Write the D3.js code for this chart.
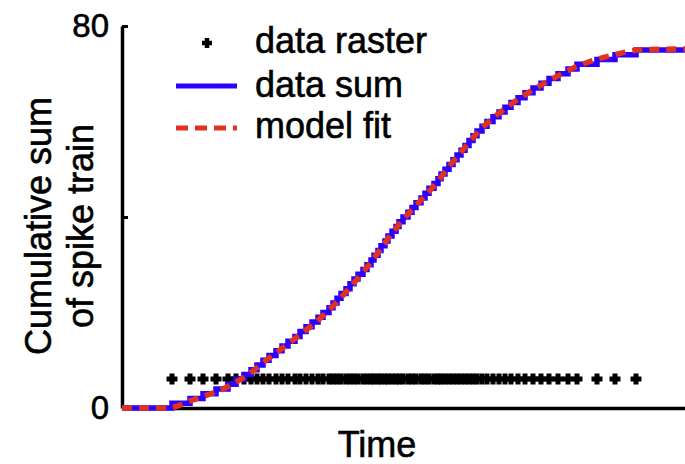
<!DOCTYPE html>
<html>
<head>
<meta charset="utf-8">
<script src="https://cdn.jsdelivr.net/npm/d3@7"></script>
<style>
  body { margin: 0; background: #fff; }
  text { font-family: "Liberation Sans", Arial, sans-serif; fill: #000; stroke: #000; stroke-width: 0.6px; }
</style>
</head>
<body>
<svg id="chart" width="685" height="464"></svg>
<script>
// spike times (same units as the time axis, no tick labels shown)
const spikeTimes = [
  50, 68, 81, 94, 106, 114, 122, 129, 135, 141,
  147, 154, 160, 166, 173, 178, 184, 190, 196, 201,
  207, 211, 215, 219, 224, 228, 232, 236, 241, 245,
  249, 252, 256, 259, 263, 266, 270, 274, 277, 281,
  286, 290, 294, 299, 303, 307, 312, 316, 319, 323,
  327, 331, 335, 339, 343, 347, 351, 355, 360, 365,
  371, 377, 383, 389, 396, 403, 411, 419, 427, 436,
  446, 455, 475, 493, 514
];
const rasterLevel = 6;

// model fit
const fitTimes  = [0, 45, 71, 105, 128, 138, 171, 205, 245, 278, 311, 335, 358, 391, 425, 458, 491, 518, 563];
const fitValues = [0, 0, 1.7, 4.4, 7.3, 9.0, 14.2, 20.1, 29.5, 38.7, 46.3, 52.6, 58.2, 63.9, 68.3, 71.8, 73.9, 75.0, 75.2];

const yTicks = [0, 40, 80];
const yTickLabels = ["0", "", "80"];
const legendLabels = ["data raster", "data sum", "model fit"];

const blue = "#2b00ff";
const red = "#e0321f";

const svg = d3.select("#chart");
const x = d3.scaleLinear().domain([0, 563]).range([122, 685]);
const y = d3.scaleLinear().domain([0, 80]).range([408, 26]);

// axes
const yAxis = d3.axisLeft(y)
  .tickValues(yTicks)
  .tickSizeInner(-6)
  .tickSizeOuter(0)
  .tickPadding(13)
  .tickFormat((d, i) => yTickLabels[i]);

const gy = svg.append("g").attr("transform", "translate(122,0)").call(yAxis);
gy.select(".domain").attr("stroke", "#000").attr("stroke-width", 3.5);
gy.selectAll(".tick line").attr("stroke", "#000").attr("stroke-width", 3);
gy.selectAll(".tick text").attr("font-size", 33).attr("font-family", "Liberation Sans, Arial, sans-serif");

const gx = svg.append("g").attr("transform", "translate(0,408)")
  .call(d3.axisBottom(x).ticks(0).tickSizeOuter(0));
gx.select(".domain").attr("stroke", "#000").attr("stroke-width", 3.5);

// axis labels
svg.append("text")
  .attr("x", 377).attr("y", 457)
  .attr("text-anchor", "middle")
  .attr("font-size", 36)
  .text("Time");

const ylab = svg.append("text")
  .attr("transform", "translate(0,226) rotate(-90)")
  .attr("text-anchor", "middle")
  .attr("font-size", 36);
ylab.append("tspan").attr("x", 0).attr("y", 51).text("Cumulative sum");
ylab.append("tspan").attr("x", 0).attr("y", 93).text("of spike train");

// plus marker path
function plus(s) {
  return `M${-s},0H${s}M0,${-s}V${s}`;
}

// raster
svg.append("g").selectAll("path")
  .data(spikeTimes)
  .enter()
  .append("path")
  .attr("d", plus(5.5))
  .attr("transform", d => `translate(${Math.round(x(d))},${Math.round(y(rasterLevel))})`)
  .attr("stroke", "#000")
  .attr("stroke-width", 5)
  .attr("fill", "none");

// cumulative sum (staircase)
const sumPts = [[0, 0]].concat(spikeTimes.map((t, i) => [t, i + 1]));
sumPts.push([563, spikeTimes.length]);

svg.append("path")
  .datum(sumPts)
  .attr("d", d3.line().x(d => x(d[0])).y(d => y(d[1])).curve(d3.curveStepAfter))
  .attr("fill", "none")
  .attr("stroke", blue)
  .attr("stroke-width", 5.5);

// model fit
const fitPts = fitTimes.map((t, i) => [t, fitValues[i]]);
svg.append("path")
  .datum(fitPts)
  .attr("d", d3.line().x(d => x(d[0])).y(d => y(d[1])).curve(d3.curveMonotoneX))
  .attr("fill", "none")
  .attr("stroke", red)
  .attr("stroke-width", 5.5)
  .attr("stroke-dasharray", "10,7");

// legend
const legend = svg.append("g");
legend.append("rect")
  .attr("x", 165).attr("y", 15).attr("width", 252).attr("height", 132)
  .attr("fill", "#fff");

legend.append("path")
  .attr("d", plus(5))
  .attr("transform", "translate(207,43)")
  .attr("stroke", "#000").attr("stroke-width", 4.5);

legend.append("line")
  .attr("x1", 176).attr("x2", 237).attr("y1", 86).attr("y2", 86)
  .attr("stroke", blue).attr("stroke-width", 5);

legend.append("line")
  .attr("x1", 176).attr("x2", 237).attr("y1", 128).attr("y2", 128)
  .attr("stroke", red).attr("stroke-width", 5)
  .attr("stroke-dasharray", "12,7");

const baselines = [53, 97, 138];
legend.selectAll("text.leg")
  .data(legendLabels)
  .enter()
  .append("text")
  .attr("class", "leg")
  .attr("x", 255)
  .attr("y", (d, i) => baselines[i])
  .attr("font-size", 36)
  .text(d => d);
</script>
</body>
</html>
